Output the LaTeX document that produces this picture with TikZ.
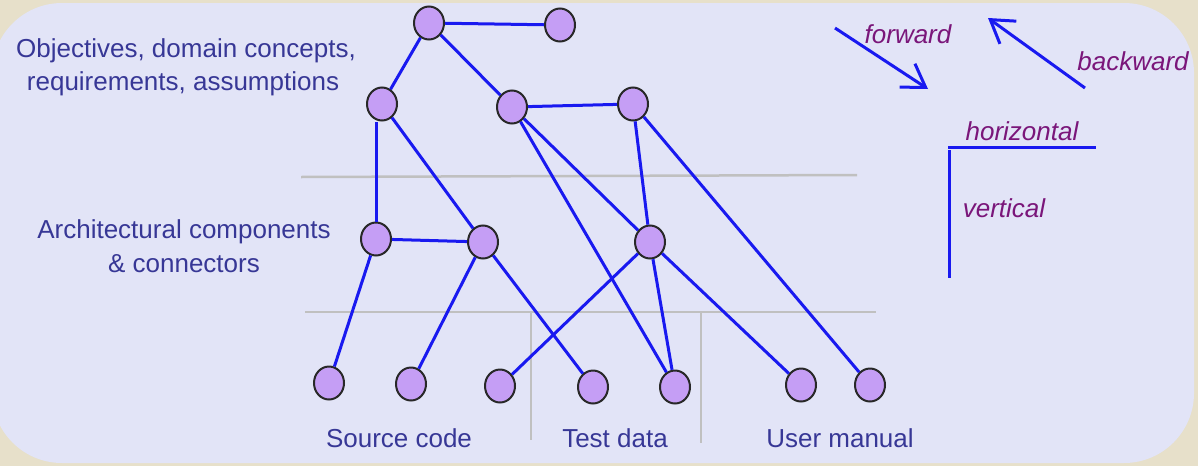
\documentclass[tikz,border=0pt]{standalone}
\usepackage{fontspec}
\setmainfont{Liberation Sans}
\usetikzlibrary{shapes.geometric,arrows.meta}
\definecolor{tanbg}{RGB}{231,224,202}
\definecolor{lavbg}{RGB}{226,228,247}
\definecolor{txtblue}{RGB}{55,55,150}
\definecolor{txtpurp}{RGB}{122,22,122}
\definecolor{lineblue}{RGB}{25,25,240}
\definecolor{sepgray}{RGB}{192,192,192}
\definecolor{nodefill}{RGB}{197,158,245}
\definecolor{nodeline}{RGB}{40,40,40}
\tikzset{
  dot/.style={ellipse, draw=nodeline, line width=2pt, fill=nodefill, minimum width=30pt, minimum height=33pt, inner sep=0pt},
  link/.style={draw=lineblue, line width=3pt},
  sep/.style={draw=sepgray, line width=2.5pt},
  lbl/.style={text=txtblue, font=\fontsize{26}{32}\selectfont, inner sep=0pt, anchor=base},
  ilbl/.style={text=txtpurp, font=\fontsize{26}{32}\selectfont\itshape, inner sep=0pt, anchor=base},
  dirarrow/.style={draw=lineblue, line width=3pt, -{Straight Barb[length=22pt,width=28pt,line width=3pt]}}
}
\begin{document}
\begin{tikzpicture}[x=1pt,y=-1pt]
\useasboundingbox (0,0) rectangle (1198,466);
\fill[tanbg] (0,0) rectangle (1198,466);
\fill[lavbg, rounded corners=70pt] (-8,3) rectangle (1194,463);

% separators
\coordinate (s1a) at (301,177);
\coordinate (s1b) at (857,175);
\coordinate (s2a) at (305,312);
\coordinate (s2b) at (876,312);
\coordinate (v1a) at (531,312);
\coordinate (v1b) at (531,440);
\coordinate (v2a) at (701,312);
\coordinate (v2b) at (701,443);
\draw[sep] (s1a) -- (s1b);
\draw[sep] (s2a) -- (s2b);
\draw[sep] (v1a) -- (v1b);
\draw[sep] (v2a) -- (v2b);

% nodes
\node[dot] (T1) at (429,23) {};
\node[dot] (T2) at (560,25) {};
\node[dot] (A1) at (382,104) {};
\node[dot] (A2) at (512,107) {};
\node[dot] (A3) at (633,104) {};
\node[dot] (M1) at (376,239) {};
\node[dot] (M2) at (483,242) {};
\node[dot] (M3) at (650,242) {};
\node[dot] (B1) at (329,383) {};
\node[dot] (B2) at (411,384) {};
\node[dot] (B3) at (500,386) {};
\node[dot] (B4) at (593,387) {};
\node[dot] (B5) at (675,387) {};
\node[dot] (B6) at (801,385) {};
\node[dot] (B7) at (870,385) {};

% connectors
\draw[link] (T1) -- (T2);
\draw[link] (T1) -- (A1);
\draw[link] (T1) -- (A2);
\draw[link] (A2) -- (A3);
\draw[link] (M1) -- (M1 |- A1.south);
\draw[link] (A1) -- (M2);
\draw[link] (M1) -- (M2);
\draw[link] (A2) -- (M3);
\draw[link] (A2) -- (B5);
\draw[link] (A3) -- (M3);
\draw[link] (A3) -- (B7);
\draw[link] (M1) -- (B1);
\draw[link] (M2) -- (B2);
\draw[link] (M2) -- (B4);
\draw[link] (M3) -- (B3);
\draw[link] (M3) -- (B5);
\draw[link] (M3) -- (B6);

% labels
\node[lbl] (obj1) at (186,57) {Objectives, domain concepts,};
\node[lbl] (obj2) at (183,90) {requirements, assumptions};
\node[lbl] (arch1) at (184,238) {Architectural components};
\node[lbl] (arch2) at (184,272) {\& connectors};
\node[lbl] (src) at (399,447) {Source code};
\node[lbl] (tst) at (615,447) {Test data};
\node[lbl] (usr) at (840,447) {User manual};

% legend
\coordinate (fwa) at (835,28);
\coordinate (fwb) at (928,89);
\coordinate (bwa) at (1085,88);
\coordinate (bwb) at (988,18);
\draw[dirarrow] (fwa) -- (fwb);
\draw[dirarrow] (bwa) -- (bwb);
\node[ilbl] (fw) at (908,43) {forward};
\node[ilbl] (bw) at (1133,70) {backward};
\coordinate (ha) at (948,147);
\coordinate (hb) at (1096,147);
\coordinate (va) at (949,150);
\coordinate (vb) at (949,278);
\draw[link] (ha) -- (hb);
\draw[link] (va) -- (vb);
\node[ilbl] (hz) at (1022,140) {horizontal};
\node[ilbl] (vt) at (1004,217) {vertical};
\end{tikzpicture}
\end{document}
